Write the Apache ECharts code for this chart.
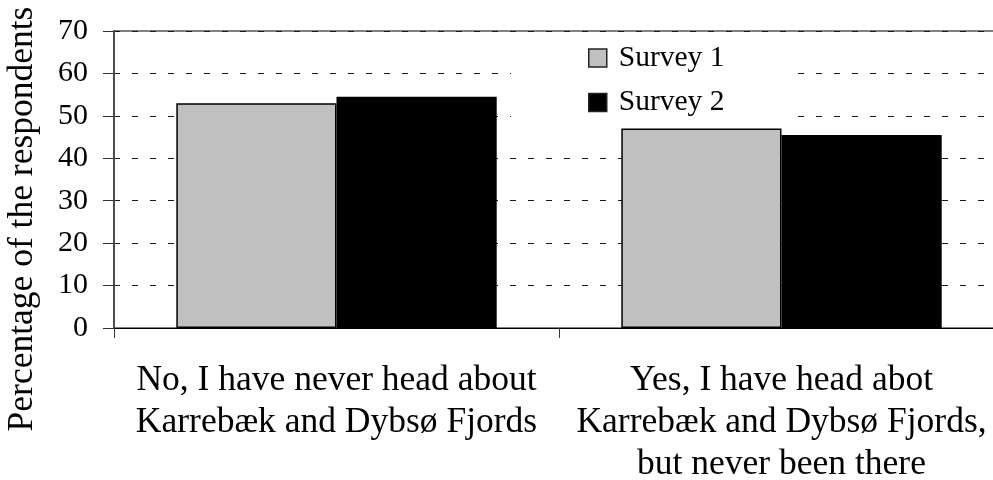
<!DOCTYPE html>
<html>
<head>
<meta charset="utf-8">
<script src="https://cdn.jsdelivr.net/npm/echarts@6/dist/echarts.min.js"></script>
<style>
  html, body { margin: 0; padding: 0; background: #fff; }
  #chart { width: 993px; height: 480px; }
</style>
</head>
<body>
<div id="chart"></div>
<script>
// Awareness of Karrebæk and Dybsø Fjords, two survey rounds (% of respondents)
const categories = [
  'No, I have never head about\nKarrebæk and Dybsø Fjords',
  'Yes, I have head abot\nKarrebæk and Dybsø Fjords,\nbut never been there'
];
const seriesNames = ['Survey 1', 'Survey 2'];
const survey1 = [53, 47];
const survey2 = [54.5, 45.5];
const yTicks = { min: 0, max: 70, interval: 10 };
const yTitle = 'Percentage of the respondents';

const serif = '"Liberation Serif", "Times New Roman", serif';

const chart = echarts.init(document.getElementById('chart'), null, { renderer: 'canvas' });

chart.setOption({
  animation: false,
  backgroundColor: '#fff',
  grid: {
    left: 114, top: 31, width: 890, height: 297,
    outerBoundsMode: 'none',
    containLabel: false,
    show: true, borderColor: '#000', borderWidth: 1, backgroundColor: 'transparent'
  },
  legend: {
    orient: 'vertical',
    left: 588, top: 43,
    padding: 0,
    icon: 'rect',
    itemWidth: 18, itemHeight: 18, itemGap: 14.5,
    data: seriesNames,
    itemStyle: { borderColor: '#222', borderWidth: 1.5 },
    textStyle: {
      fontFamily: serif, fontSize: 29.5, lineHeight: 30, color: '#000',
      padding: [0, 0, 0, 7]
    }
  },
  xAxis: {
    type: 'category',
    data: categories,
    boundaryGap: true,
    axisLine: { lineStyle: { color: '#000', width: 1 } },
    axisTick: { show: true, length: 10, lineStyle: { color: '#333' } },
    axisLabel: {
      interval: 0, margin: 32,
      fontFamily: serif, fontSize: 35.5, lineHeight: 42, color: '#000', align: 'center'
    },
    splitLine: { show: false }
  },
  yAxis: {
    type: 'value',
    min: yTicks.min, max: yTicks.max, interval: yTicks.interval,
    axisLine: { show: true, lineStyle: { color: '#4d4d4d', width: 2 } },
    axisTick: { show: true, length: 11, lineStyle: { color: '#333' } },
    axisLabel: { margin: 26, fontFamily: serif, fontSize: 30, color: '#000' },
    splitLine: {
      show: true,
      lineStyle: { color: '#1a1a1a', width: 1, type: [6, 12], dashOffset: 0 }
    }
  },
  graphic: [
    {
      // white panel behind the legend, masking the gridlines there
      type: 'rect',
      z: 3,
      shape: { x: 511, y: 38, width: 284, height: 88 },
      style: { fill: '#fff' }
    },
    {
      type: 'text',
      x: 23, y: 219,
      rotation: Math.PI / 2,
      style: {
        text: yTitle,
        font: '35.5px ' + serif,
        fill: '#000',
        textAlign: 'center',
        textVerticalAlign: 'middle'
      }
    }
  ],
  series: [
    {
      name: seriesNames[0], type: 'bar', data: survey1,
      barGap: '0%', barCategoryGap: '28%',
      itemStyle: { color: '#c0c0c0', borderColor: '#000', borderWidth: 1.5 }
    },
    {
      name: seriesNames[1], type: 'bar', data: survey2,
      barGap: '0%', barCategoryGap: '28%',
      itemStyle: { color: '#000', borderColor: '#000', borderWidth: 1.5 }
    }
  ]
});
</script>
</body>
</html>
